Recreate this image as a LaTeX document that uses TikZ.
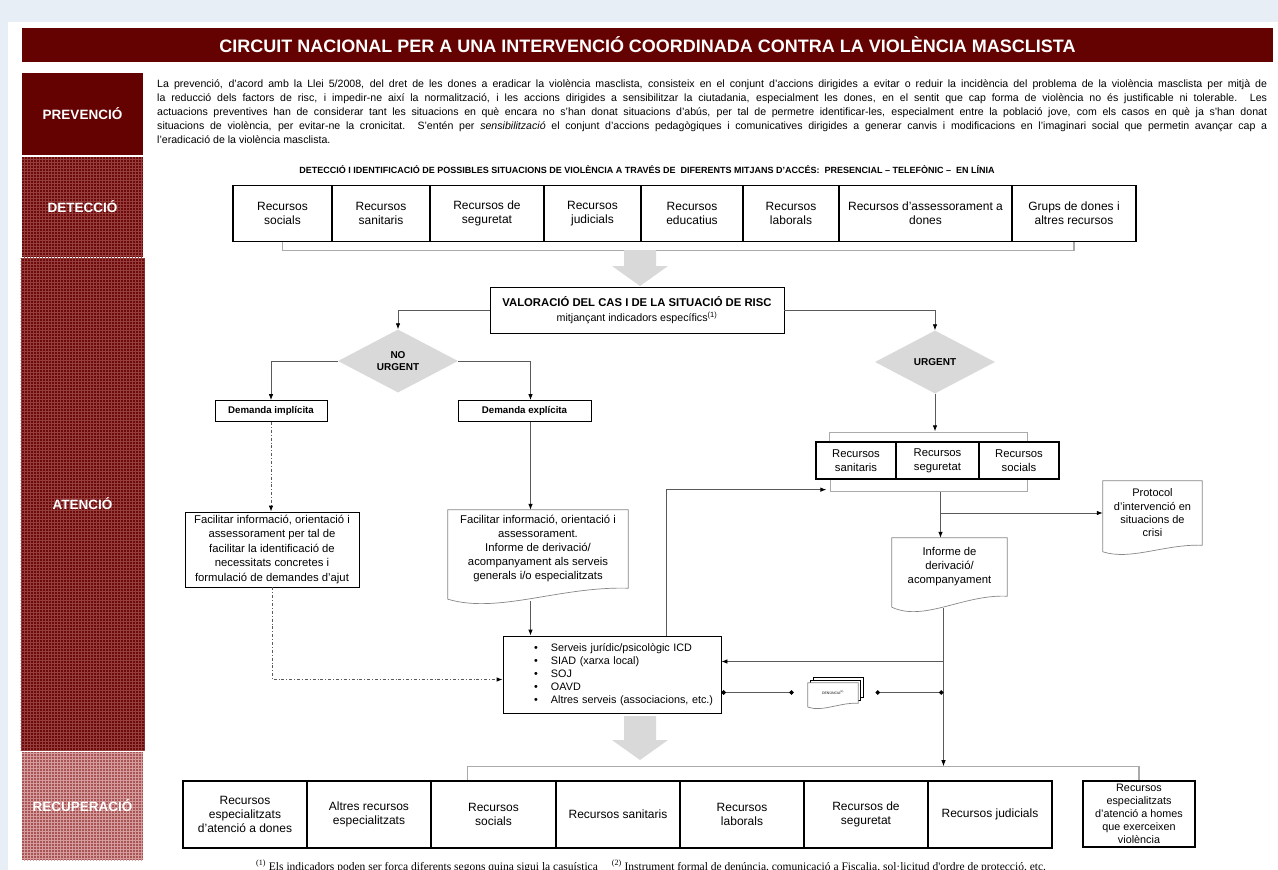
\documentclass[tikz,border=0pt]{standalone}
\usepackage{fontspec}
\setmainfont{Liberation Sans}
\newfontfamily\notefont{Liberation Serif}
\usetikzlibrary{arrows.meta, patterns, shapes.geometric, calc}
\definecolor{bgblue}{RGB}{232,238,246}
\definecolor{darkred}{RGB}{100,2,2}
\definecolor{hatchred}{RGB}{108,10,10}
\definecolor{hatchline}{RGB}{150,62,62}
\definecolor{lightred}{RGB}{168,84,84}
\definecolor{lightline}{RGB}{212,156,156}
\definecolor{linegray}{RGB}{90,90,90}
\definecolor{brackgray}{RGB}{170,170,170}
\definecolor{fatgray}{RGB}{217,217,217}
\definecolor{docgray}{RGB}{135,135,135}
\tikzstyle{side} = [minimum width=121pt, text=white, inner sep=0pt, font=\fontsize{13.5}{15}\selectfont\bfseries]
\tikzstyle{hatch} = [side, fill=hatchred, postaction={pattern=grid, pattern color=hatchline}]
\tikzstyle{res} = [draw, line width=1.6pt, inner sep=2pt, align=center, font=\fontsize{12}{14}\selectfont]
\tikzstyle{box} = [draw, line width=0.8pt, inner sep=2pt, align=center, font=\fontsize{11.3}{14.5}\selectfont]
\tikzstyle{demand} = [draw, line width=0.8pt, minimum height=21pt, inner sep=0pt, font=\fontsize{9.7}{11}\selectfont\bfseries]
\tikzstyle{choice} = [diamond, aspect=2, fill=fatgray, minimum width=120pt, minimum height=63pt, inner sep=0pt, align=center, font=\fontsize{10}{12}\selectfont\bfseries]
\tikzstyle{doc} = [inner sep=2pt, align=center, font=\fontsize{11.3}{14}\selectfont]
\tikzstyle{docline} = [draw=docgray, line width=0.7pt]
\tikzstyle{arr} = [draw=linegray, line width=0.8pt, -{Latex[length=6pt,width=4.5pt,color=black]}]
\tikzstyle{dotarr} = [draw=linegray, line width=0.8pt, {Circle[length=4.5pt,color=black]}-{Circle[length=4.5pt,color=black]}]
\tikzstyle{brack} = [draw=brackgray, line width=1.2pt]
\tikzstyle{fat} = [fill=fatgray]
\newcommand{\wavedoc}[2]{%
  \draw[docline] ([yshift={-11pt*#2}]#1.south west) -- (#1.north west) -- (#1.north east) -- (#1.south east)
    .. controls ($(#1.south east)!0.38!(#1.south west)+(0,-2*#2)$) and ($(#1.south east)!0.72!(#1.south west)+(0,26*#2)$) .. ([yshift={-11pt*#2}]#1.south west);}
\begin{document}
\begin{tikzpicture}[x=1pt,y=-1pt]
\useasboundingbox (0,0) rectangle (1278,870);
\fill[bgblue] (0,0) rectangle (1278,870);
\fill[white] (8,22) rectangle (1278,870);

% title and phases
\node [fill=darkred,minimum width=1251pt,minimum height=34pt,text=white,font=\fontsize{18}{20}\selectfont\bfseries](title) at (647.5,45) {CIRCUIT NACIONAL PER A UNA INTERVENCIÓ COORDINADA CONTRA LA VIOLÈNCIA MASCLISTA};
\node [side,fill=darkred,minimum height=82pt](prev) at (82.5,114) {PREVENCIÓ};
\node [hatch,minimum height=100pt](det) at (82.5,207) {DETECCIÓ};
\node [hatch,minimum width=124pt,minimum height=492pt](aten) at (82.5,504) {ATENCIÓ};
\node [side,fill=lightred,postaction={pattern=grid,pattern color=lightline},minimum height=108pt](recu) at (82.5,806) {RECUPERACIÓ};

\node [anchor=north west,inner sep=0pt,text width=1110pt,align=justify,font=\fontsize{10.6}{14.2}\selectfont](para) at (157,79) {%
La prevenció, d'acord amb la Llei 5/2008, del dret de les dones a eradicar la violència masclista, consisteix en el conjunt d'accions dirigides a evitar o reduir la incidència del problema de la violència masclista per mitjà de\linebreak
la reducció dels factors de risc, i impedir-ne així la normalització, i les accions dirigides a sensibilitzar la ciutadania, especialment les dones, en el sentit que cap forma de violència no és justificable ni tolerable. Les\linebreak
actuacions preventives han de considerar tant les situacions en què encara no s'han donat situacions d'abús, per tal de permetre identificar-les, especialment entre la població jove, com els casos en què ja s'han donat\linebreak
situacions de violència, per evitar-ne la cronicitat. S'entén per \textit{sensibilització} el conjunt d'accions pedagògiques i comunicatives dirigides a generar canvis i modificacions en l'imaginari social que permetin avançar cap a\linebreak
l'eradicació de la violència masclista.};

% detection
\node [font=\fontsize{9}{10}\selectfont\bfseries](dethead) at (647,170) {DETECCIÓ I IDENTIFICACIÓ DE POSSIBLES SITUACIONS DE VIOLÈNCIA A TRAVÉS DE\ \ DIFERENTS MITJANS D'ACCÉS:\ \ PRESENCIAL – TELEFÒNIC –\ \ EN LÍNIA};
\node [res,minimum width=99pt,minimum height=56pt](dsoc) at (282.5,213.5) {Recursos\\socials};
\node [res,minimum width=98pt,minimum height=56pt](dsan) at (381,213.5) {Recursos\\sanitaris};
\node [res,minimum width=114pt,minimum height=56pt](dseg) at (487,213.5) {Recursos de\\seguretat};
\node [res,minimum width=97pt,minimum height=56pt](djud) at (592.5,213.5) {Recursos\\judicials};
\node [res,minimum width=102pt,minimum height=56pt](dedu) at (692,213.5) {Recursos\\educatius};
\node [res,minimum width=96pt,minimum height=56pt](dlab) at (791,213.5) {Recursos\\laborals};
\node [res,minimum width=173pt,minimum height=56pt](dase) at (925.5,213.5) {Recursos d'assessorament a\\dones};
\node [res,minimum width=124pt,minimum height=56pt](dgrp) at (1074,213.5) {Grups de dones i\\altres recursos};
\draw[brack] (dsoc.south) -- ++(0,8) -| (dgrp.south);
\fill[fat] (624,250) -- (656,250) -- (656,266) -- (668,266) -- (640,286) -- (612,266) -- (624,266) -- cycle;

% assessment
\node [box,minimum width=294pt,minimum height=46pt,font=\fontsize{10.7}{15}\selectfont](val) at (637,310) {{\fontsize{11.3}{15}\selectfont\bfseries VALORACIÓ DEL CAS I DE LA SITUACIÓ DE RISC}\\mitjançant indicadors específics\textsuperscript{(1)}};
\node [choice](nourg) at (398,361) {NO\\URGENT};
\node [choice](urg) at (935,362) {URGENT};
\draw[arr] (val.west) -| (nourg.north);
\draw[arr] (val.east) -| (urg.north);

\node [demand,minimum width=112pt](impl) at (271,411) {Demanda implícita};
\node [demand,minimum width=133pt](expl) at (524.5,411) {Demanda explícita};
\coordinate (ex) at ([xshift=6pt]expl.south);
\draw[arr] (nourg.west) -| (impl.north);
\draw[arr] (nourg.east) -| ([xshift=6pt]expl.north);

\node [box,minimum width=174pt,minimum height=75pt](fimp) at (272,549.5) {Facilitar informació, orientació i\\assessorament per tal de\\facilitar la identificació de\\necessitats concretes i\\formulació de demandes d'ajut};
\node [doc,minimum width=180pt,minimum height=78pt](fexp) at (538,549) {Facilitar informació, orientació i\\assessorament.\\Informe de derivació/\\acompanyament als serveis\\generals i/o especialitzats};
\wavedoc{fexp}{1}

\node [box,text width=206pt,inner xsep=6pt,minimum height=77pt,align=left,font=\fontsize{10.8}{13}\selectfont](serv) at (612,674.5) {%
\hspace*{25pt}\makebox[17pt][l]{\textbullet}Serveis jurídic/psicològic ICD\\
\hspace*{25pt}\makebox[17pt][l]{\textbullet}SIAD (xarxa local)\\
\hspace*{25pt}\makebox[17pt][l]{\textbullet}SOJ\\
\hspace*{25pt}\makebox[17pt][l]{\textbullet}OAVD\\
\hspace*{25pt}\makebox[17pt][l]{\textbullet}Altres serveis (associacions, etc.)};

\draw[arr,dash dot] (impl.south) -- (impl.south |- fimp.north);
\draw[arr,dash dot] (fimp.south) |- ([yshift=-5pt]serv.west);
\draw[arr] (ex) -- (ex |- fexp.north);
\draw[arr,shorten <=13pt] (ex |- fexp.south) -- (ex |- serv.north);

% urgent branch
\node [res,line width=1.3pt,minimum width=80pt,minimum height=37pt,font=\fontsize{11.3}{14}\selectfont](usan) at (856,460.5) {Recursos\\sanitaris};
\node [res,line width=1.3pt,minimum width=83pt,minimum height=37pt,font=\fontsize{11.3}{14}\selectfont](useg) at (937.5,460.5) {Recursos\\seguretat};
\node [res,line width=1.3pt,minimum width=80pt,minimum height=37pt,font=\fontsize{11.3}{14}\selectfont](usoc) at (1019,460.5) {Recursos\\socials};
\draw[brack] ([xshift=14pt]usan.north west) -- ++(0,-9) -| ([xshift=-32pt]usoc.north east);
\draw[brack] ([xshift=15pt]usan.south west) -- ++(0,12) -| ([xshift=-32pt]usoc.south east);
\coordinate (ubt) at ([yshift=10pt]useg.north);
\coordinate (ubl) at ([xshift=11pt,yshift=-10pt]usan.south west);
\coordinate (ubm) at ([xshift=3pt,yshift=-12pt]useg.south);
\draw[arr] (urg.south) -- (urg.south |- ubt);
\draw[arr] ([xshift=54pt]serv.north) |- (ubl);

\node [doc,minimum width=115pt,minimum height=58pt](inf) at (949.5,567) {Informe de\\derivació/\\acompanyament};
\wavedoc{inf}{1}
\node [doc,minimum width=99pt,minimum height=64pt,font=\fontsize{11}{13.3}\selectfont](prot) at (1152.5,513) {Protocol\\d'intervenció en\\situacions de\\crisi};
\wavedoc{prot}{0.6}
\draw[arr] (ubm) -- (ubm |- inf.north);
\draw[arr] (ubm |- prot.west) -- (prot.west);

% complaint
\node [draw,fill=white,line width=1pt,minimum width=50pt,minimum height=20pt](den2) at (838,687) {};
\node [draw,fill=white,line width=1pt,minimum width=50pt,minimum height=20pt](den1) at (835.5,690) {};
\node [doc,fill=white,minimum width=50pt,minimum height=20pt,font=\fontsize{3.5}{4}\selectfont](den) at (833,693) {DENÚNCIA\textsuperscript{(2)}};
\wavedoc{den}{0.35}

% recovery
\node [res,minimum width=124pt,minimum height=67pt](rdon) at (245,814.5) {Recursos\\especialitzats\\d'atenció a dones};
\node [res,minimum width=124pt,minimum height=67pt](ralt) at (369,814.5) {Altres recursos\\especialitzats};
\node [res,minimum width=125pt,minimum height=67pt](rsoc) at (493.5,814.5) {Recursos\\socials};
\node [res,minimum width=124pt,minimum height=67pt](rsan) at (618,814.5) {Recursos sanitaris};
\node [res,minimum width=124pt,minimum height=67pt](rlab) at (742,814.5) {Recursos\\laborals};
\node [res,minimum width=124pt,minimum height=67pt](rseg) at (866,814.5) {Recursos de\\seguretat};
\node [res,minimum width=124pt,minimum height=67pt](rjud) at (990,814.5) {Recursos judicials};
\node [res,minimum width=112pt,minimum height=66pt,inner sep=1pt,font=\fontsize{10.8}{13}\selectfont](rhom) at (1139,814) {Recursos\\especialitzats\\d'atenció a homes\\que exerceixen\\violència};
\draw[brack] ([xshift=-26pt]rsoc.north) -- ++(0,-14) -| (rhom.north);
\coordinate (rbt) at ([yshift=14pt]rsan.north);
\fill[fat] (624,716) -- (656,716) -- (656,740) -- (668,740) -- (640,760) -- (612,740) -- (624,740) -- cycle;

\coordinate (infb) at ([xshift=-6pt]inf.south);
\coordinate (sv1) at ([yshift=13pt]serv.east);
\coordinate (sv2) at ([yshift=-18pt]serv.east);
\draw[arr,shorten <=12pt] (infb) -- (infb |- rbt);
\draw[arr] (infb |- sv1) -- (sv1);
\draw[dotarr,shorten >=14pt] (sv2) -- (sv2 -| den.west);
\draw[dotarr,shorten <=12pt] (sv2 -| den2.east) -- (sv2 -| infb);

\node [anchor=base west,inner sep=0pt,font=\notefont\fontsize{11.5}{13}\selectfont](fnote) at (256,870) {\textsuperscript{(1)} Els indicadors poden ser força diferents segons quina sigui la casuística\hspace{14pt}\textsuperscript{(2)} Instrument formal de denúncia, comunicació a Fiscalia, sol·licitud d'ordre de protecció, etc.};
\end{tikzpicture}
\end{document}
